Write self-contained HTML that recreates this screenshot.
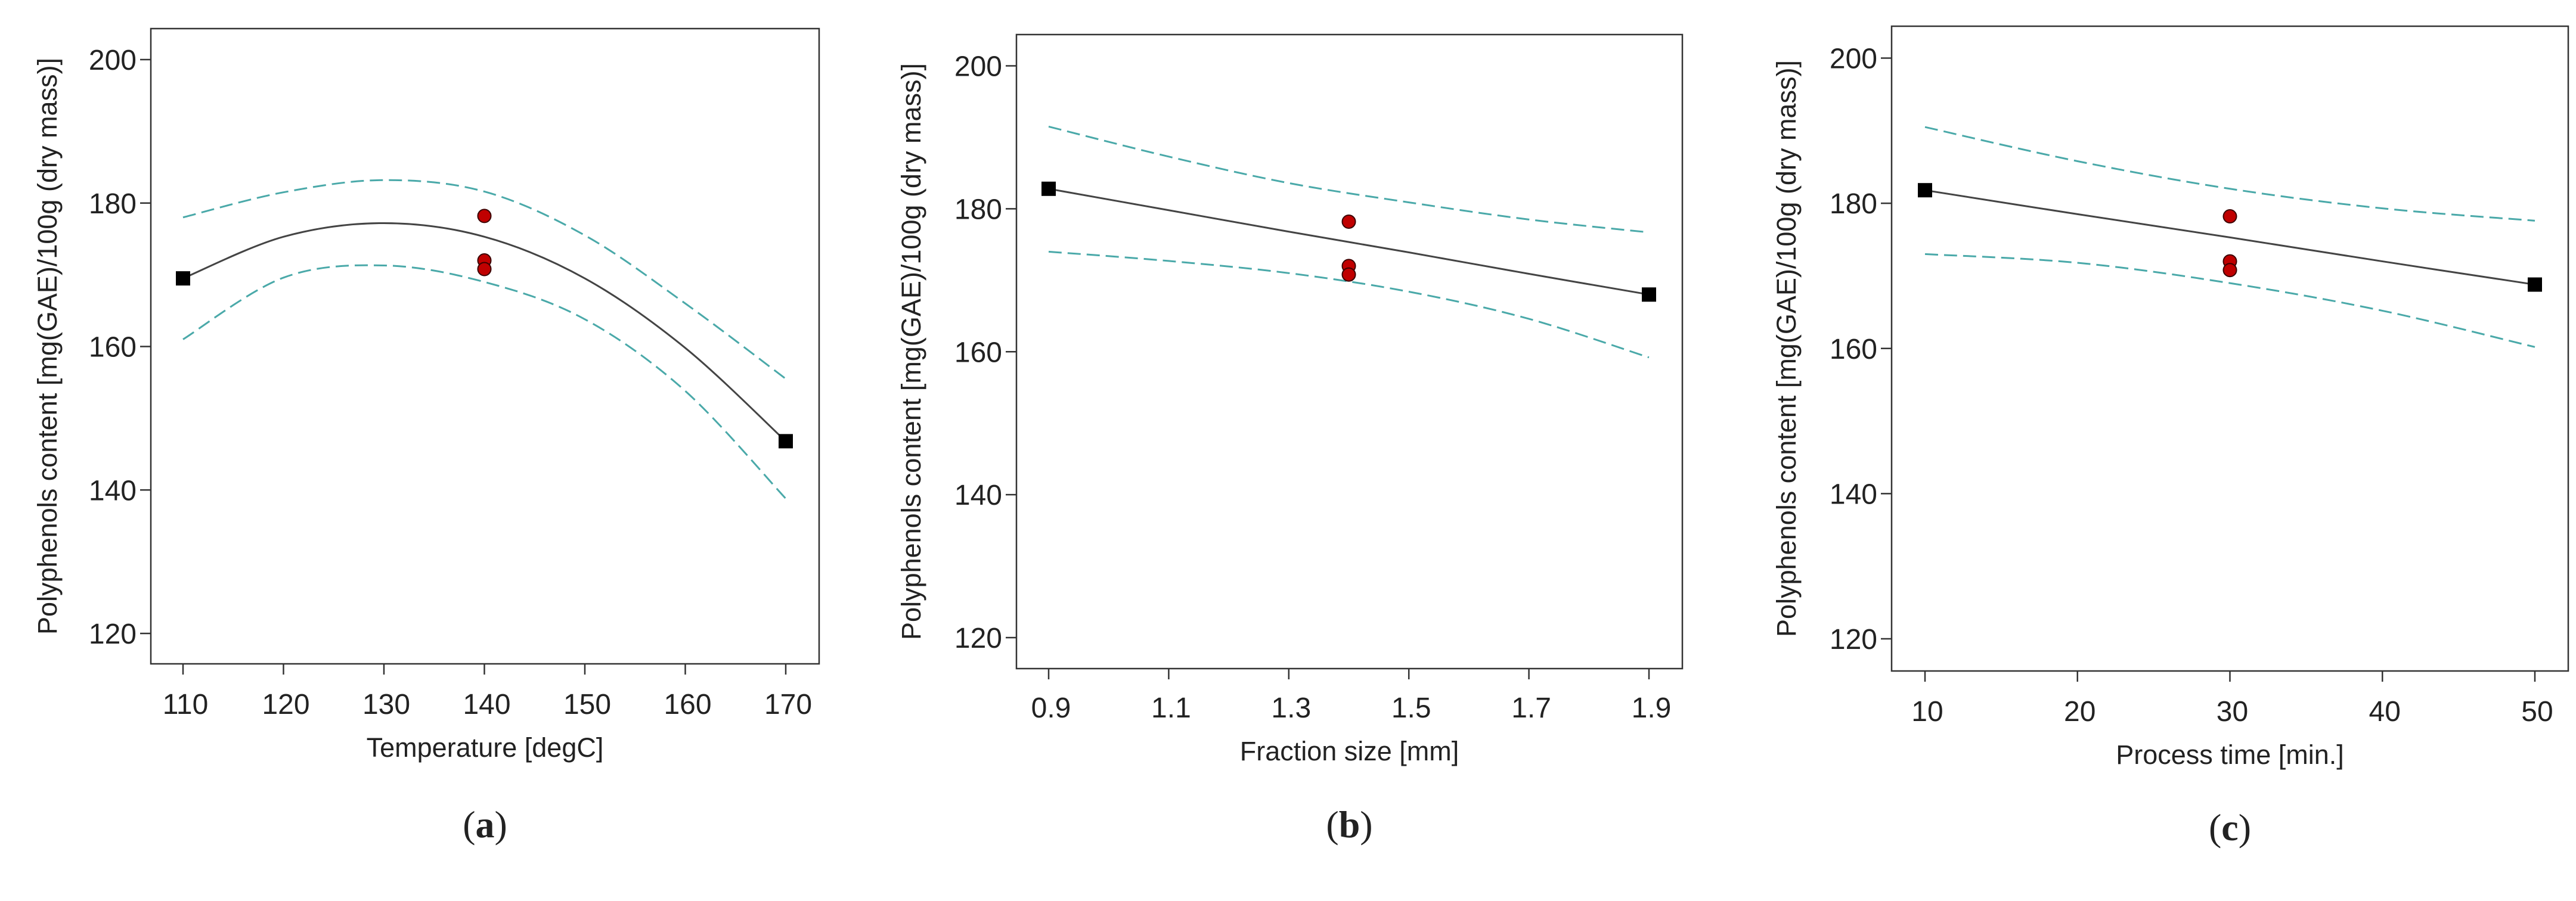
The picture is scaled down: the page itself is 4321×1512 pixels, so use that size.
<!DOCTYPE html>
<html><head><meta charset="utf-8"><style>
html,body{margin:0;padding:0;background:#fff;}
svg{display:block;}
text{font-family:"Liberation Sans",sans-serif;fill:#222;}
</style></head><body>
<svg id="fig" width="4321" height="1512" viewBox="0 0 4321 1512" xmlns="http://www.w3.org/2000/svg"></svg>
<script>
// Panel (a) data
const aX = [110,120,130,140,150,160,170];
const aFit = [169.5,175.3,177.2,175.3,169.5,159.8,146.8];
const aUpper = [178,181.5,183.2,181.6,175.5,166,155.5];
const aLower = [161,169.6,171.3,169,163.8,153.8,138.8];
const aPtsX = [140,140,140];
const aPtsY = [178.2,172,170.8];
const aSqX = [110,170];
const aSqY = [169.5,146.8];
const aTicks = [110,120,130,140,150,160,170];
const aTickLabels = ["110","120","130","140","150","160","170"];
// Panel (b) data
const bX = [0.9,1.1,1.3,1.5,1.7,1.9];
const bFit = [182.8,179.8,176.8,173.9,170.9,168];
const bUpper = [191.5,187.3,183.6,180.9,178.5,176.7];
const bLower = [174,172.7,171,168.4,164.6,159.2];
const bPtsX = [1.4,1.4,1.4];
const bPtsY = [178.2,172,170.8];
const bSqX = [0.9,1.9];
const bSqY = [182.8,168];
const bTicks = [0.9,1.1,1.3,1.5,1.7,1.9];
const bTickLabels = ["0.9","1.1","1.3","1.5","1.7","1.9"];
// Panel (c) data
const cX = [10,20,30,40,50];
const cFit = [181.8,178.5,175.3,172,168.8];
const cUpper = [190.5,185.8,182,179.3,177.6];
const cLower = [173,171.8,169,165.2,160.2];
const cPtsX = [30,30,30];
const cPtsY = [178.2,172,170.8];
const cSqX = [10,50];
const cSqY = [181.8,168.8];
const cTicks = [10,20,30,40,50];
const cTickLabels = ["10","20","30","40","50"];
const yTicks = [120,140,160,180,200];
const yTickLabels = ["120","140","160","180","200"];

const NS="http://www.w3.org/2000/svg";
const svg=document.getElementById('fig');
function mk(tag,attrs,parent){const e=document.createElementNS(NS,tag);for(const k in attrs)e.setAttribute(k,attrs[k]);(parent||svg).appendChild(e);return e;}
function smooth(pts){let d=`M${pts[0][0]},${pts[0][1]}`;for(let i=0;i<pts.length-1;i++){const p0=pts[i-1]||pts[i],p1=pts[i],p2=pts[i+1],p3=pts[i+2]||p2;
const c1=[p1[0]+(p2[0]-p0[0])/6,p1[1]+(p2[1]-p0[1])/6],c2=[p2[0]-(p3[0]-p1[0])/6,p2[1]-(p3[1]-p1[1])/6];
d+=` C${c1[0]},${c1[1]} ${c2[0]},${c2[1]} ${p2[0]},${p2[1]}`;}return d;}

function panel(cfg){
  const g=mk('g',{});
  
  
  const sx=v=>cfg.x0+(v-cfg.xmin)/(cfg.xmax-cfg.xmin)*(cfg.x1-cfg.x0);
  const sy=v=>cfg.y200+(200-v)/80*(cfg.y120-cfg.y200);
  const box=mk('rect',{x:cfg.L,y:cfg.T,width:cfg.R-cfg.L,height:cfg.B-cfg.T,fill:'none',stroke:'#333','stroke-width':2.5},g);
  
  
  yTicks.forEach((v,i)=>{const y=sy(v);
    mk('line',{x1:cfg.L-18,x2:cfg.L,y1:y,y2:y,stroke:'#333','stroke-width':2.5},g);
    const t=mk('text',{x:cfg.L-24,y:y+17,'text-anchor':'end','font-size':48},g);t.textContent=yTickLabels[i];
    
    });
  cfg.ticks.forEach((v,i)=>{const x=sx(v);
    mk('line',{x1:x,x2:x,y1:cfg.B,y2:cfg.B+18,stroke:'#333','stroke-width':2.5},g);
    const t=mk('text',{x:x+4,y:cfg.tickY,'text-anchor':'middle','font-size':48},g);t.textContent=cfg.labels[i];
    
    });
  const xt=mk('text',{x:(cfg.L+cfg.R)/2,y:cfg.titleY,'text-anchor':'middle','font-size':45},g);xt.textContent=cfg.xtitle;
  
  
  const yc=(cfg.T+cfg.B)/2;
  const yt=mk('text',{x:cfg.ytx,y:yc,'text-anchor':'middle','font-size':45,transform:`rotate(-90 ${cfg.ytx} ${yc})`},g);
  yt.textContent='Polyphenols content [mg(GAE)/100g (dry mass)]';
  
  
  const pl=mk('text',{x:(cfg.L+cfg.R)/2,y:cfg.capY,'text-anchor':'middle','font-size':64,style:'font-family:"Liberation Serif",serif'},g);
  pl.innerHTML='(<tspan font-weight="bold">'+cfg.id+'</tspan>)';
  
  
  [[cfg.up,'upper-ci'],[cfg.lo,'lower-ci']].forEach(([arr,n])=>{
    const p=mk('path',{d:smooth(cfg.xs.map((v,i)=>[sx(v),sy(arr[i])])),fill:'none',stroke:'#4aa9a9','stroke-width':3,'stroke-dasharray':'22 10'},g);
    
    });
  const f=mk('path',{d:smooth(cfg.xs.map((v,i)=>[sx(v),sy(cfg.fit[i])])),fill:'none',stroke:'#444','stroke-width':3},g);
  
  
  cfg.px.forEach((v,i)=>{const c=mk('circle',{cx:sx(v),cy:sy(cfg.py[i]),r:11,fill:'#c00000',stroke:'#3a0000','stroke-width':2},g);
    
    });
  cfg.sqx.forEach((v,i)=>{const r=mk('rect',{x:sx(v)-12,y:sy(cfg.sqy[i])-12,width:24,height:24,fill:'#000'},g);
    
    });
}
panel({id:'a',L:253,R:1374,T:48,B:1114,y200:100,y120:1063,x0:307,x1:1318,xmin:110,xmax:170,ticks:aTicks,labels:aTickLabels,tickY:1198,titleY:1270,capY:1405,ytx:95,xtitle:'Temperature [degC]',xs:aX,fit:aFit,up:aUpper,lo:aLower,px:aPtsX,py:aPtsY,sqx:aSqX,sqy:aSqY});
panel({id:'b',L:1705,R:2822,T:58,B:1122,y200:110.5,y120:1070,x0:1759,x1:2766,xmin:0.9,xmax:1.9,ticks:bTicks,labels:bTickLabels,tickY:1204,titleY:1276,capY:1405,ytx:1544,xtitle:'Fraction size [mm]',xs:bX,fit:bFit,up:bUpper,lo:bLower,px:bPtsX,py:bPtsY,sqx:bSqX,sqy:bSqY});
panel({id:'c',L:3173,R:4308,T:44,B:1126,y200:97.5,y120:1072,x0:3229,x1:4252,xmin:10,xmax:50,ticks:cTicks,labels:cTickLabels,tickY:1210,titleY:1282,capY:1410,ytx:3012,xtitle:'Process time [min.]',xs:cX,fit:cFit,up:cUpper,lo:cLower,px:cPtsX,py:cPtsY,sqx:cSqX,sqy:cSqY});
</script>
</body></html>
